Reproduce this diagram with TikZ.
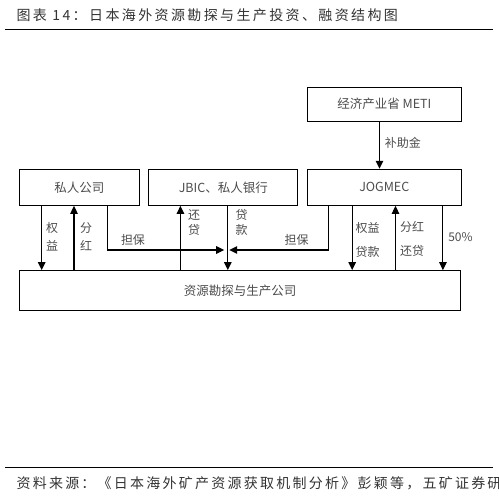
\documentclass[tikz,border=0pt]{standalone}
\usepackage{fontspec}
\setmainfont{Noto Sans CJK SC}
\newfontfamily\headfont[LetterSpace=17]{Noto Sans CJK SC}
\newfontfamily\notefont[LetterSpace=16]{Noto Sans CJK SC}
\usetikzlibrary{positioning}
\usetikzlibrary{arrows.meta}

\begin{document}
\begin{tikzpicture}[
            x = 1pt, y = -1pt, % pixel grid, y down
            > = {Triangle[width=7.5pt,length=8pt]}, % arrow head style
            line width = 1.1pt,
            node distance = 8.4pt % gap between boxes
            ]

        \tikzstyle{orgbox}=[
            draw,
            inner sep = 0pt,
            minimum height = 36pt,
            text = black!70,
            font = \fontsize{12.5}{14}\selectfont
        ]
        \tikzstyle{flowlabel}=[
            inner sep = 0pt,
            text = black!70,
            align = center,
            font = \fontsize{12}{15}\selectfont
        ]

        \useasboundingbox (0,0) rectangle (499,498);

        % title
        \node[anchor=west, inner sep=0pt, text=black!80, font=\headfont\fontsize{14}{16}\selectfont] (TITLE) at (16,15) {图表 14：日本海外资源勘探与生产投资、融资结构图};
        \draw[line width=1.3pt] (5,29.7) -- (493,29.7);

        % boxes
        \node[orgbox, minimum width=120pt] (PC) at (79.3,187.3) {私人公司};
        \node[orgbox, minimum width=149pt] (BANK) [right=of PC] {JBIC、私人银行};
        \node[orgbox, minimum width=154pt] (JOG) [right=of BANK] {JOGMEC};
        \node[orgbox, minimum width=154pt, minimum height=34pt] (METI) [above=47pt of JOG] {经济产业省 METI};
        \node[orgbox, minimum width=441.4pt, minimum height=40pt] (RES) at (240,290.7) {资源勘探与生产公司};

        % subsidy
        \draw[->] ([xshift=-4.8pt]METI.south) -- ([xshift=-4.8pt]JOG.north);
        \node[flowlabel] (SUB) at (402.8,143.3) {补助金};

        % private company
        \draw[->] ([xshift=-37.6pt]PC.south) -- ([xshift=-37.6pt]PC.south |- RES.north);
        \draw[->] ([xshift=-5.3pt]PC.south |- RES.north) -- ([xshift=-5.3pt]PC.south);
        \node[flowlabel] (EQ1) at (52,237) {权\\[3pt]益};
        \node[flowlabel] (DIV1) at (86,237) {分\\[3pt]红};

        % guarantees meet on the loan line
        \coordinate (M) at (226.7,250);
        \draw[->, shorten >=2.5pt] ([xshift=28pt]PC.south) |- (M);
        \draw[->, shorten >=2.5pt] ([xshift=-56.1pt]JOG.south) |- (M);
        \node[flowlabel] (GU1) at (133,240) {担保};
        \node[flowlabel] (GU2) at (296.7,240) {担保};

        % banks
        \draw[->] ([xshift=-42.9pt]BANK.south |- RES.north) -- ([xshift=-42.9pt]BANK.south);
        \draw[->] ([xshift=4.5pt]BANK.south) -- ([xshift=4.5pt]BANK.south |- RES.north);
        \node[flowlabel] (REP1) at (194,222.5) {还\\贷};
        \node[flowlabel] (LOAN1) at (241.5,222.5) {贷\\款};

        % JOGMEC
        \draw[->] ([xshift=-32.1pt]JOG.south) -- ([xshift=-32.1pt]JOG.south |- RES.north);
        \draw[->] ([xshift=11.2pt]JOG.south |- RES.north) -- ([xshift=11.2pt]JOG.south);
        \draw[->] ([xshift=58.6pt]JOG.south) -- ([xshift=58.6pt]JOG.south |- RES.north);
        \node[flowlabel] (EQ2) at (367.5,240) {权益\\[9pt]贷款};
        \node[flowlabel] (DIV2) at (412,238.7) {分红\\[9pt]还贷};
        \node[flowlabel] (PCT) at (460.5,237) {50\%};

        % source
        \draw[line width=1.3pt] (5,467.3) -- (493,467.3);
        \node[anchor=west, inner sep=0pt, text=black!80, font=\notefont\fontsize{14}{16}\selectfont] (SRC) at (16,483) {资料来源：《日本海外矿产资源获取机制分析》彭颖等，五矿证券研究所};

\end{tikzpicture}
\end{document}
